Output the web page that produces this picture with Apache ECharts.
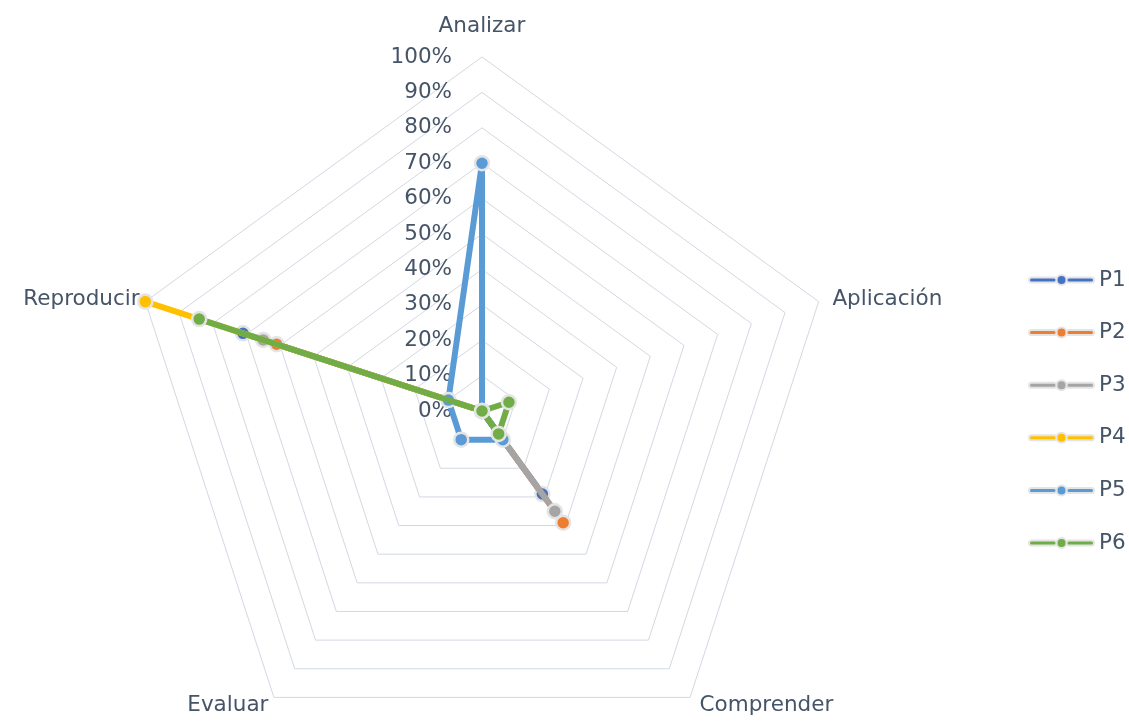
<!DOCTYPE html>
<html>
<head>
<meta charset="utf-8">
<script src="https://cdn.jsdelivr.net/npm/echarts@6/dist/echarts.min.js"></script>
<style>
  html, body { margin: 0; padding: 0; background: #ffffff; }
  #chart { width: 1129px; height: 721px; }
</style>
</head>
<body>
<div id="chart"></div>
<script>
// Indicators, listed counter-clockwise from the top as ECharts places them
const indicators = ['Analizar', 'Reproducir', 'Evaluar', 'Comprender', 'Aplicación'];

// Percentages per indicator (same order as above)
const P1 = [0, 71, 0, 29, 0];
const P2 = [0, 61, 0, 39, 0];
const P3 = [0, 65, 0, 35, 0];
const P4 = [0, 100, 0, 0, 0];
const P5 = [70, 10, 10, 10, 0];
const P6 = [0, 84, 0, 8, 8];

const seriesNames = ['P1', 'P2', 'P3', 'P4', 'P5', 'P6'];
const seriesValues = [P1, P2, P3, P4, P5, P6];
const colors = ['#4472C4', '#ED7D31', '#A5A5A5', '#FFC000', '#5B9BD5', '#70AD47'];

// Scale labels along the top spoke
const tickMin = 0, tickMax = 100, tickStep = 10;

const textColor = '#465468';
const fontFamily = '"DejaVu Sans", sans-serif';
const fontSize = 21.5;
const cx = 482, cy = 411, R = 354;

// Per-direction styles for the indicator names
const nameStyle = (extra) => Object.assign({ fontSize: fontSize, color: textColor, fontFamily: fontFamily }, extra);
const nameKey = {
  'Analizar': 'top',
  'Aplicación': 'right',
  'Comprender': 'bottomRight',
  'Evaluar': 'bottomLeft',
  'Reproducir': 'left'
};

const chart = echarts.init(document.getElementById('chart'), null, { renderer: 'canvas' });

chart.setOption({
  backgroundColor: '#ffffff',
  animation: false,
  color: colors,
  textStyle: { fontFamily: fontFamily },
  radar: {
    center: [cx, cy],
    radius: R,
    startAngle: 90,
    splitNumber: (tickMax - tickMin) / tickStep,
    shape: 'polygon',
    indicator: indicators.map(n => ({ name: n, min: tickMin, max: tickMax })),
    nameGap: 6,
    axisName: {
      color: textColor,
      fontSize: fontSize,
      fontFamily: fontFamily,
      formatter: function (name) {
        return '{' + nameKey[name] + '|' + name + '}';
      },
      rich: {
        top: nameStyle({ padding: [0, 0, 14, 0] }),
        right: nameStyle({ padding: [0, 0, 0, 8] }),
        bottomRight: nameStyle({ padding: [7, 0, 0, 6], lineHeight: 20 }),
        bottomLeft: nameStyle({ padding: [7, 2, 0, 0], lineHeight: 20 }),
        left: nameStyle({})
      }
    },
    axisLine: { show: false },
    axisTick: { show: false },
    axisLabel: { show: false },
    splitLine: { lineStyle: { color: '#D3D8E2', width: 1 } },
    splitArea: { show: false }
  },
  // Value axis aligned with the top spoke, carrying the percentage labels
  grid: { left: cx, top: cy - R, height: R, width: 1 },
  xAxis: { type: 'value', show: false },
  yAxis: {
    type: 'value',
    min: tickMin,
    max: tickMax,
    interval: tickStep,
    axisLine: { show: false },
    axisTick: { show: false },
    splitLine: { show: false },
    axisLabel: {
      formatter: '{value}%',
      margin: 30,
      color: textColor,
      fontSize: fontSize,
      fontFamily: fontFamily
    }
  },
  legend: {
    orient: 'vertical',
    left: 1028,
    top: 268,
    padding: 0,
    itemWidth: 65,
    itemHeight: 10,
    itemGap: 28.6,
    icon: 'path://M2.5,2.5 L25,2.5 A2.5,2.5 0 0 1 25,7.5 L2.5,7.5 A2.5,2.5 0 0 1 2.5,2.5 Z M40,2.5 L62.5,2.5 A2.5,2.5 0 0 1 62.5,7.5 L40,7.5 A2.5,2.5 0 0 1 40,2.5 Z M37.5,5 A5,5 0 1 1 27.5,5 A5,5 0 1 1 37.5,5 Z',
    textStyle: { color: textColor, fontSize: fontSize, lineHeight: 24, fontFamily: fontFamily },
    data: seriesNames
  },
  series: seriesNames.map((name, i) => ({
    type: 'radar',
    name: name,
    symbol: 'circle',
    symbolSize: 14,
    lineStyle: { color: colors[i], width: 6 },
    itemStyle: { color: colors[i], borderColor: '#E4E4E4', borderWidth: 2.5 },
    z: 2 + i,
    data: [{ value: seriesValues[i], name: name }]
  }))
});
</script>
</body>
</html>
